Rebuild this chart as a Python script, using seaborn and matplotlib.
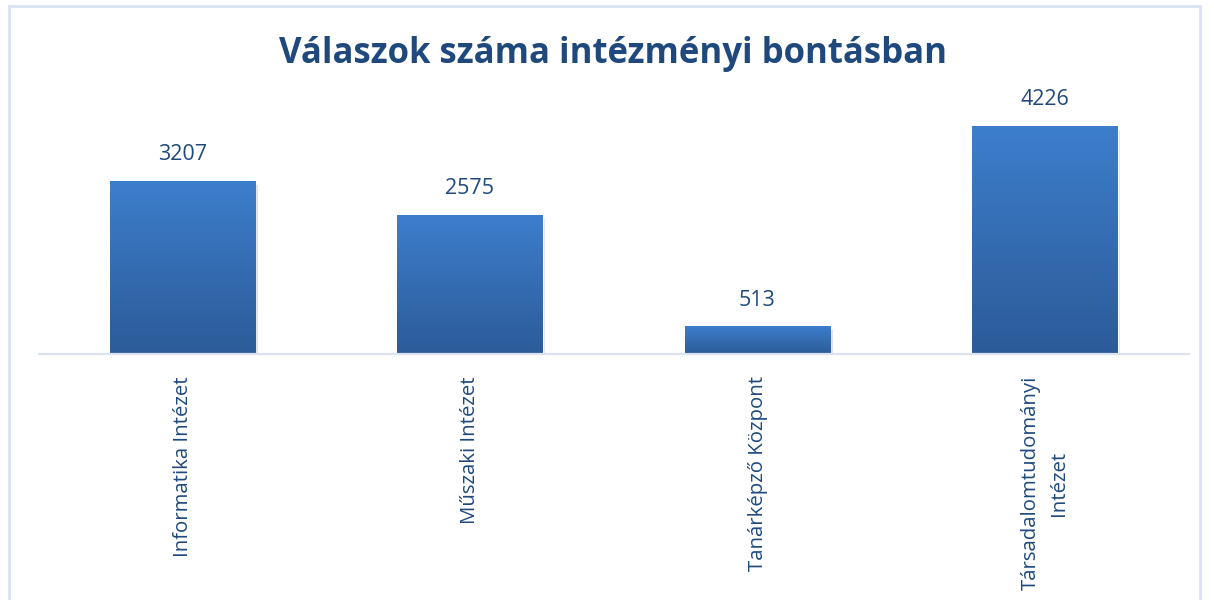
import numpy as np
import pandas as pd
import matplotlib.pyplot as plt
import seaborn as sns
from matplotlib.patches import Rectangle

categories = ['Informatika Intézet', 'Műszaki Intézet', 'Tanárképző Központ', 'Társadalomtudományi\nIntézet']
values = [3207, 2575, 513, 4226]

df = pd.DataFrame({'intezet': categories, 'valasz': values})

sns.set_theme(style="white")
plt.rcParams['font.family'] = ['Open Sans', 'DejaVu Sans']

W, H = 1214, 600
fig = plt.figure(figsize=(W / 100, H / 100), dpi=100)
# plot area in pixel coordinates
left, right, base, top = 38.75, 1188.75, 354, 84.25
ax = fig.add_axes([left / W, 1 - base / H, (right - left) / W, (base - top) / H])

sns.barplot(data=df, x='intezet', y='valasz', color='#3a78c4', width=0.505, ax=ax, saturation=1)

# gradient fill + soft shadow
grad = np.linspace(0, 1, 256)
top_c = np.array([0x3d, 0x7e, 0xcc]) / 255
bot_c = np.array([0x2c, 0x5b, 0x98]) / 255
img = (top_c + (bot_c - top_c) * grad[:, None])[:, None, :]
for p in ax.patches:
    x0, w, h = p.get_x(), p.get_width(), p.get_height()
    sh = Rectangle((x0 + 0.01, -70), w, h, facecolor='#9a9a9a', alpha=0.3, edgecolor='none', zorder=1)
    ax.add_patch(sh)
    p.set_zorder(2)
    im = ax.imshow(img, extent=[x0, x0 + w, 0, h], aspect='auto', zorder=3, origin='upper')
    im.set_clip_path(p)
ax.set_xlim(-0.5, 3.5)
ax.set_ylim(0, 5000)

for i, v in enumerate(values):
    ax.text(i, v + 290, str(v), ha='center', va='bottom', fontsize=15.5, color='#1f497d')

ax.set_xlabel('')
ax.set_ylabel('')
ax.set_yticks([])
ax.set_xticks(range(len(categories)))
ax.set_xticklabels(categories, rotation=90, ha='center', va='top', multialignment='center',
                   fontsize=14.7, color='#1f497d', linespacing=1.5)
ax.tick_params(axis='x', length=0, pad=16)
for s in ['top', 'right', 'left']:
    ax.spines[s].set_visible(False)
ax.spines['bottom'].set_color('#dbe3f1')
ax.spines['bottom'].set_linewidth(1.6)
ax.spines['bottom'].set_zorder(4)

fig.text(613 / W, 1 - 54 / H, 'Válaszok száma intézményi bontásban', ha='center', va='center',
         fontsize=25, fontweight='bold', color='#1f497d')

# outer chart frame
frame = Rectangle((8.5 / W, -0.05), (1200 - 8.5) / W, 1 - 6 / H + 0.05, transform=fig.transFigure,
                  fill=False, edgecolor='#d9e2f3', linewidth=2)
fig.patches.append(frame)

plt.savefig('out.png', dpi=100)
